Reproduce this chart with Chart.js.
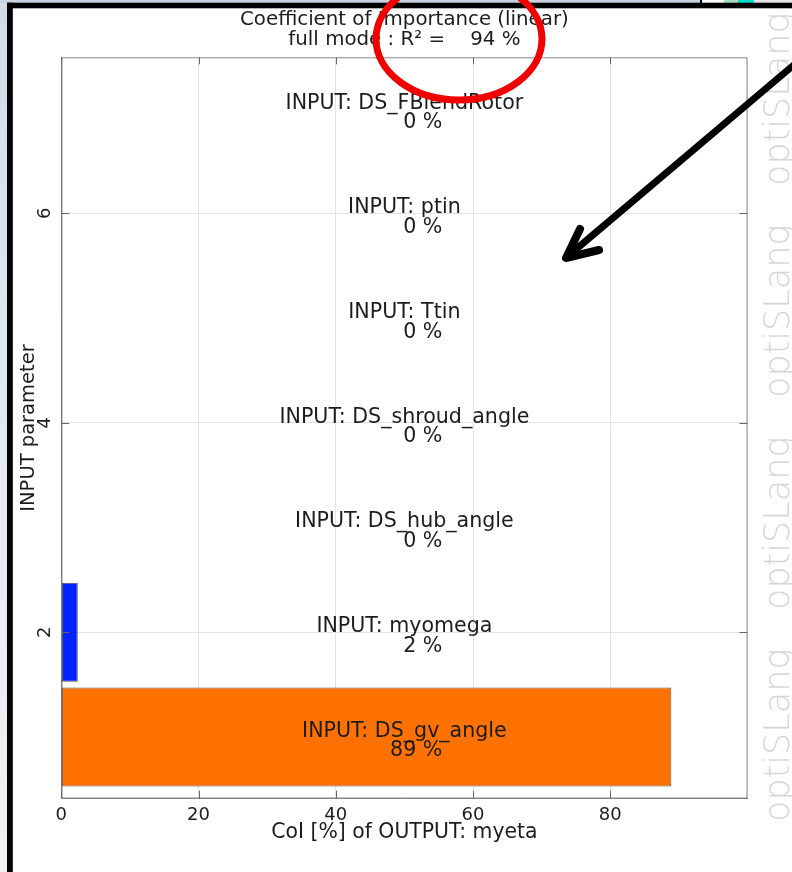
<!DOCTYPE html>
<html>
<head>
<meta charset="utf-8">
<script src="https://cdn.jsdelivr.net/npm/chart.js@4"></script>
<style>
  html, body { margin: 0; padding: 0; background: #fff; }
  canvas { display: block; }
</style>
</head>
<body>
<canvas id="coiChart" width="792" height="872"></canvas>
<script>
// CoI of each input parameter on output myeta (bar position = parameter rank)
const positions = [1, 2, 3, 4, 5, 6, 7];
const parameters = ["DS_gv_angle", "myomega", "DS_hub_angle", "DS_shroud_angle", "Ttin", "ptin", "DS_FBlendRotor"];
const coiValues = [88.9, 2.4, 0, 0, 0, 0, 0];
const barColors = ["#ff7100", "#0022ff", "#00b000", "#ff00ff", "#00c0c0", "#c0c000", "#808080"];
const xTicks = [0, 20, 40, 60, 80];
const yTicks = [2, 4, 6];
const rSquared = 94;
const outputName = "myeta";

const FONT = "'DejaVu Sans', Verdana, sans-serif";
const TEXT = "#1c1c1c";

const decorations = {
  id: "decorations",
  beforeDraw(chart) {
    const ctx = chart.ctx;
    ctx.save();
    ctx.fillStyle = "#fff";
    ctx.fillRect(0, 0, chart.width, chart.height);
    // window background around the screenshot
    const g = ctx.createLinearGradient(0, 0, 0, chart.height);
    g.addColorStop(0, "#d2dae8");
    g.addColorStop(0.5, "#e4e8ef");
    g.addColorStop(1, "#eff0f3");
    ctx.fillStyle = g;
    ctx.fillRect(0, 0, 7, chart.height);
    ctx.fillStyle = "#c8d2e2";
    ctx.fillRect(0, 0, chart.width, 3);
    // little toolbar bits top right
    ctx.fillStyle = "#000"; ctx.fillRect(700, 0, 2, 3);
    ctx.fillStyle = "#fafafa"; ctx.fillRect(702, 0, 22, 3);
    ctx.fillStyle = "#a6dcc2"; ctx.fillRect(724, 0, 14, 3);
    ctx.fillStyle = "#00dccc"; ctx.fillRect(738, 0, 16, 3);
    ctx.fillStyle = "#e4e4e4"; ctx.fillRect(754, 0, 38, 3);
    // black frame
    ctx.fillStyle = "#000";
    ctx.fillRect(7, 2.7, chart.width - 7, 5.6);
    ctx.fillRect(7, 2.7, 5.8, chart.height);
    ctx.restore();
  },
  afterDatasetsDraw(chart) {
    const ctx = chart.ctx;
    const xs = chart.scales.x, ys = chart.scales.y;
    const a = chart.chartArea;
    ctx.save();

    // plot frame
    ctx.lineWidth = 1;
    ctx.strokeStyle = "#8a8a8a";
    ctx.beginPath();
    ctx.moveTo(a.left, a.top + 0.5); ctx.lineTo(a.right - 0.5, a.top + 0.5); ctx.lineTo(a.right - 0.5, a.bottom);
    ctx.stroke();
    ctx.strokeStyle = "#4a4a4a";
    ctx.beginPath();
    ctx.moveTo(a.left + 0.5, a.top); ctx.lineTo(a.left + 0.5, a.bottom - 0.5); ctx.lineTo(a.right, a.bottom - 0.5);
    ctx.stroke();

    // inward tick marks
    ctx.strokeStyle = "#666";
    ctx.beginPath();
    xTicks.forEach(v => {
      const px = Math.round(xs.getPixelForValue(v)) + 0.5;
      ctx.moveTo(px, a.bottom); ctx.lineTo(px, a.bottom - 8);
      ctx.moveTo(px, a.top); ctx.lineTo(px, a.top + 7);
    });
    yTicks.forEach(v => {
      const py = Math.round(ys.getPixelForValue(v)) + 0.5;
      ctx.moveTo(a.left, py); ctx.lineTo(a.left + 8, py);
      ctx.moveTo(a.right, py); ctx.lineTo(a.right - 8, py);
    });
    ctx.stroke();

    // y tick labels, rotated
    ctx.fillStyle = TEXT;
    ctx.font = "18px " + FONT;
    ctx.textAlign = "center";
    ctx.textBaseline = "middle";
    yTicks.forEach(v => {
      ctx.save();
      ctx.translate(45, ys.getPixelForValue(v));
      ctx.rotate(-Math.PI / 2);
      ctx.fillText(String(v), 0, 0);
      ctx.restore();
    });

    // bar labels
    const cx = xs.getPixelForValue(50);
    ctx.font = "20.6px " + FONT;
    ctx.textBaseline = "alphabetic";
    positions.forEach((p, i) => {
      const py = ys.getPixelForValue(p);
      ctx.textAlign = "center";
      ctx.fillText("INPUT: " + parameters[i], cx, py);
      ctx.textAlign = "right";
      ctx.fillText(Math.round(coiValues[i]) + " %", cx + 38, py + 19.5);
    });

    // title
    ctx.textAlign = "center";
    ctx.textBaseline = "middle";
    ctx.font = "19.8px " + FONT;
    ctx.fillText("Coefficient of Importance (linear)", cx, 20);
    ctx.fillText("full mode : R\u00b2 =    " + rSquared + " %", cx, 40);
    ctx.restore();
  },
  afterDraw(chart) {
    const ctx = chart.ctx;
    ctx.save();
    // optiSLang watermark down the right side
    ctx.fillStyle = "#d6d6d6";
    ctx.font = "200 35px 'DejaVu Sans', sans-serif";
    ctx.textAlign = "left";
    ctx.textBaseline = "alphabetic";
    [822, 610, 398, 186].forEach(y0 => {
      ctx.save();
      ctx.translate(789, y0);
      ctx.rotate(-Math.PI / 2);
      ctx.fillText("optiSLang", 0, 0);
      ctx.restore();
    });

    // red ellipse around R²
    ctx.strokeStyle = "#f00000";
    ctx.lineWidth = 7;
    ctx.beginPath();
    ctx.ellipse(459, 39, 83, 61, 0, 0, Math.PI * 2);
    ctx.stroke();

    // black arrow
    ctx.strokeStyle = "#000";
    ctx.lineCap = "round";
    ctx.lineJoin = "round";
    ctx.lineWidth = 7;
    ctx.beginPath();
    ctx.moveTo(795, 64);
    ctx.lineTo(568, 256);
    ctx.stroke();
    ctx.lineWidth = 8;
    ctx.beginPath();
    ctx.moveTo(580, 229);
    ctx.lineTo(566, 258);
    ctx.lineTo(599, 250);
    ctx.stroke();
    ctx.restore();
  }
};

const ctx = document.getElementById("coiChart");

new Chart(ctx, {
  type: "bar",
  data: {
    datasets: [{
      data: positions.map((p, i) => ({ x: coiValues[i], y: p })),
      backgroundColor: barColors,
      borderColor: "#555",
      borderWidth: 1,
      borderSkipped: false,
      barPercentage: 0.945,
      categoryPercentage: 1
    }]
  },
  options: {
    indexAxis: "y",
    responsive: false,
    animation: false,
    layout: { padding: { top: 57.3, right: 44.5, left: 0, bottom: 0 } },
    plugins: {
      legend: { display: false },
      tooltip: { enabled: false },
      title: { display: false }
    },
    scales: {
      x: {
        type: "linear",
        min: 0,
        max: 100,
        ticks: {
          stepSize: 20,
          callback: v => (xTicks.includes(v) ? v : ""),
          font: { family: FONT, size: 18 },
          color: TEXT,
          padding: 5.5
        },
        grid: { color: "#e3e3e3", drawTicks: false },
        border: { display: false },
        title: {
          display: true,
          text: "CoI [%] of OUTPUT: " + outputName,
          font: { family: FONT, size: 20.4 },
          color: TEXT,
          padding: { top: 0, bottom: 27 }
        },
        afterFit: s => { s.height = 73.3; }
      },
      y: {
        type: "linear",
        offset: false,
        min: 0.41,
        max: 7.49,
        ticks: { display: false, stepSize: 2, includeBounds: false },
        grid: { color: "#e3e3e3", drawTicks: false, offset: false },
        border: { display: false },
        title: {
          display: true,
          text: "INPUT parameter",
          font: { family: FONT, size: 19.5 },
          color: TEXT,
          padding: { top: 17.5, bottom: 0 }
        },
        afterFit: s => { s.width = 61.3; }
      }
    }
  },
  plugins: [decorations]
});
</script>
</body>
</html>
